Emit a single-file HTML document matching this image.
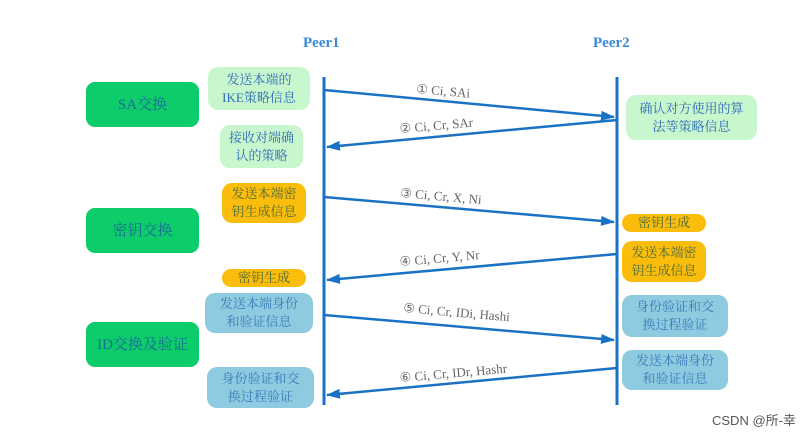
<!DOCTYPE html>
<html><head><meta charset="utf-8"><style>
body{margin:0;width:805px;height:433px;background:#fff;overflow:hidden;position:relative;font-family:"Liberation Serif","Noto Serif CJK SC",serif}
.b{position:absolute;display:flex;align-items:center;justify-content:center;text-align:center;border-radius:10px;font-size:13px;line-height:18px;color:#2a6ab8}
.big{background:#0dcd6a;color:#1a6a9a;font-size:15px;border-radius:9px}
.g{background:#c9f7cd}.o{background:#fbbd0b;color:#4a6a3a}.l{background:#8fcbe0;color:#3a7ab8}
.t{position:absolute;color:#3a8ad8;font-weight:bold;font-size:15px}
</style></head><body>
<div class="t" style="left:303px;top:35px">Peer1</div>
<div class="t" style="left:593px;top:35px">Peer2</div>
<div class="b big" style="left:86px;top:82px;width:113px;height:45px">SA交换</div>
<div class="b big" style="left:86px;top:208px;width:113px;height:45px">密钥交换</div>
<div class="b big" style="left:86px;top:322px;width:113px;height:45px">ID交换及验证</div>
<div class="b g" style="left:208px;top:67px;width:102px;height:43px">发送本端的<br>IKE策略信息</div>
<div class="b g" style="left:220px;top:125px;width:83px;height:43px">接收对端确<br>认的策略</div>
<div class="b o" style="left:222px;top:183px;width:84px;height:40px">发送本端密<br>钥生成信息</div>
<div class="b o" style="left:222px;top:269px;width:84px;height:18px">密钥生成</div>
<div class="b l" style="left:205px;top:293px;width:108px;height:40px">发送本端身份<br>和验证信息</div>
<div class="b l" style="left:207px;top:367px;width:107px;height:41px">身份验证和交<br>换过程验证</div>
<div class="b g" style="left:626px;top:95px;width:131px;height:45px">确认对方使用的算<br>法等策略信息</div>
<div class="b o" style="left:622px;top:214px;width:84px;height:18px">密钥生成</div>
<div class="b o" style="left:622px;top:241px;width:84px;height:41px">发送本端密<br>钥生成信息</div>
<div class="b l" style="left:622px;top:295px;width:106px;height:42px">身份验证和交<br>换过程验证</div>
<div class="b l" style="left:622px;top:350px;width:106px;height:40px">发送本端身份<br>和验证信息</div>
<svg width="805" height="433" style="position:absolute;left:0;top:0">
<defs><marker id="a" markerWidth="14" markerHeight="10" refX="13" refY="5" orient="auto" markerUnits="userSpaceOnUse"><path d="M0,0L14,5L0,10z" fill="#1a72c4"/></marker></defs>
<g stroke="#1a72c4" stroke-width="3"><line x1="324" y1="77" x2="324" y2="405"/><line x1="617" y1="77" x2="617" y2="405"/></g>
<g stroke="#1a72c4" stroke-width="2.5" marker-end="url(#a)">
<line x1="324" y1="90" x2="614" y2="117"/><line x1="617" y1="120" x2="327" y2="147"/>
<line x1="324" y1="197" x2="614" y2="222"/><line x1="617" y1="254" x2="327" y2="280"/>
<line x1="324" y1="315" x2="614" y2="340"/><line x1="617" y1="368" x2="327" y2="395"/></g>
<g fill="#666" font-size="13" font-family="Liberation Serif,serif">
<text x="416" y="93" transform="rotate(5 416 93)">① Ci, SAi</text>
<text x="400" y="133" transform="rotate(-5 400 133)">② Ci, Cr, SAr</text>
<text x="400" y="197" transform="rotate(5 400 197)">③ Ci, Cr, X, Ni</text>
<text x="400" y="266" transform="rotate(-5 400 266)">④ Ci, Cr, Y, Nr</text>
<text x="403" y="312" transform="rotate(5 403 312)">⑤ Ci, Cr, IDi, Hashi</text>
<text x="400" y="382" transform="rotate(-5 400 382)">⑥ Ci, Cr, IDr, Hashr</text></g>
</svg>
<div style="position:absolute;left:712px;top:410px;font:13px 'Liberation Sans','Noto Sans CJK SC',sans-serif;color:#555">CSDN @所-幸</div>
</body></html>
